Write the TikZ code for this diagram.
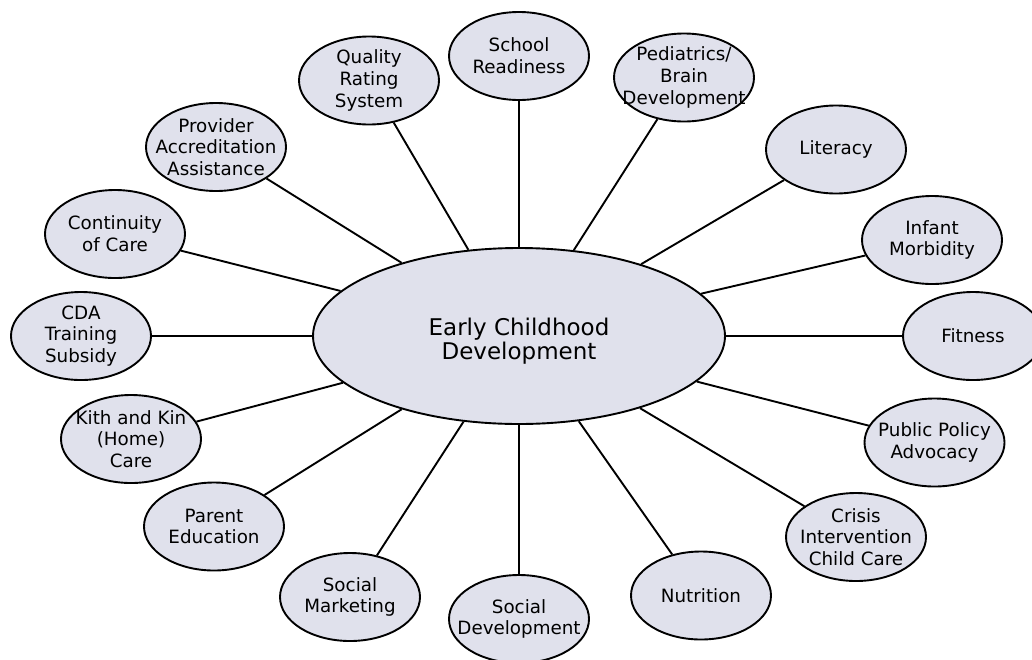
\documentclass[tikz,border=0pt]{standalone}
\usepackage{fontspec}
\setmainfont{DejaVu Sans}
\usetikzlibrary{shapes.geometric}
\definecolor{bubfill}{RGB}{224,225,236}
\tikzset{
  bub/.style={shape=ellipse, draw=black, line width=1.9pt, fill=bubfill,
    minimum width=140, minimum height=88, inner sep=0pt},
  hub/.style={bub, minimum width=412, minimum height=176},
  txt/.style={align=center, inner sep=0pt, font=\fontsize{18.3}{21.7}\selectfont},
  hubtxt/.style={align=center, inner sep=0pt, font=\fontsize{23}{24.5}\selectfont},
  conn/.style={draw=black, line width=1.9pt}
}
\newcommand\bubble[3]{\node[bub] (#1) at (#2) {}; \node[txt] (#1-t) at (#1) {#3};}
\begin{document}
\begin{tikzpicture}[x=1pt,y=-1pt]
\useasboundingbox (0,0) rectangle (1032,659);
\node[hub] (ecd) at (519,336) {};
\node[hubtxt] (ecd-t) at (519,341) {Early Childhood\\Development};
\bubble{sr}{519,56}{School\\Readiness}
\bubble{qrs}{369,80.5}{Quality\\Rating\\System}
\bubble{pbd}{684,77.5}{Pediatrics/\\Brain\\Development}
\bubble{paa}{216,147}{Provider\\Accreditation\\Assistance}
\bubble{lit}{836,149.5}{Literacy}
\bubble{coc}{115,234}{Continuity\\of Care}
\bubble{im}{932,240}{Infant\\Morbidity}
\bubble{cda}{81,336}{CDA\\Training\\Subsidy}
\bubble{fit}{973,336}{Fitness}
\bubble{kk}{131,439}{Kith and Kin\\(Home)\\Care}
\bubble{ppa}{934.5,442.5}{Public Policy\\Advocacy}
\bubble{pe}{214,526.5}{Parent\\Education}
\bubble{cic}{856,537}{Crisis\\Intervention\\Child Care}
\bubble{sm}{350,597}{Social\\Marketing}
\bubble{nut}{701,595.5}{Nutrition}
\bubble{sd}{519,619}{Social\\Development}
\foreach \n in {sr,qrs,pbd,paa,lit,coc,im,cda,fit,kk,ppa,pe,cic,sm,nut,sd}
  \draw[conn] (ecd) -- (\n);
\end{tikzpicture}
\end{document}
